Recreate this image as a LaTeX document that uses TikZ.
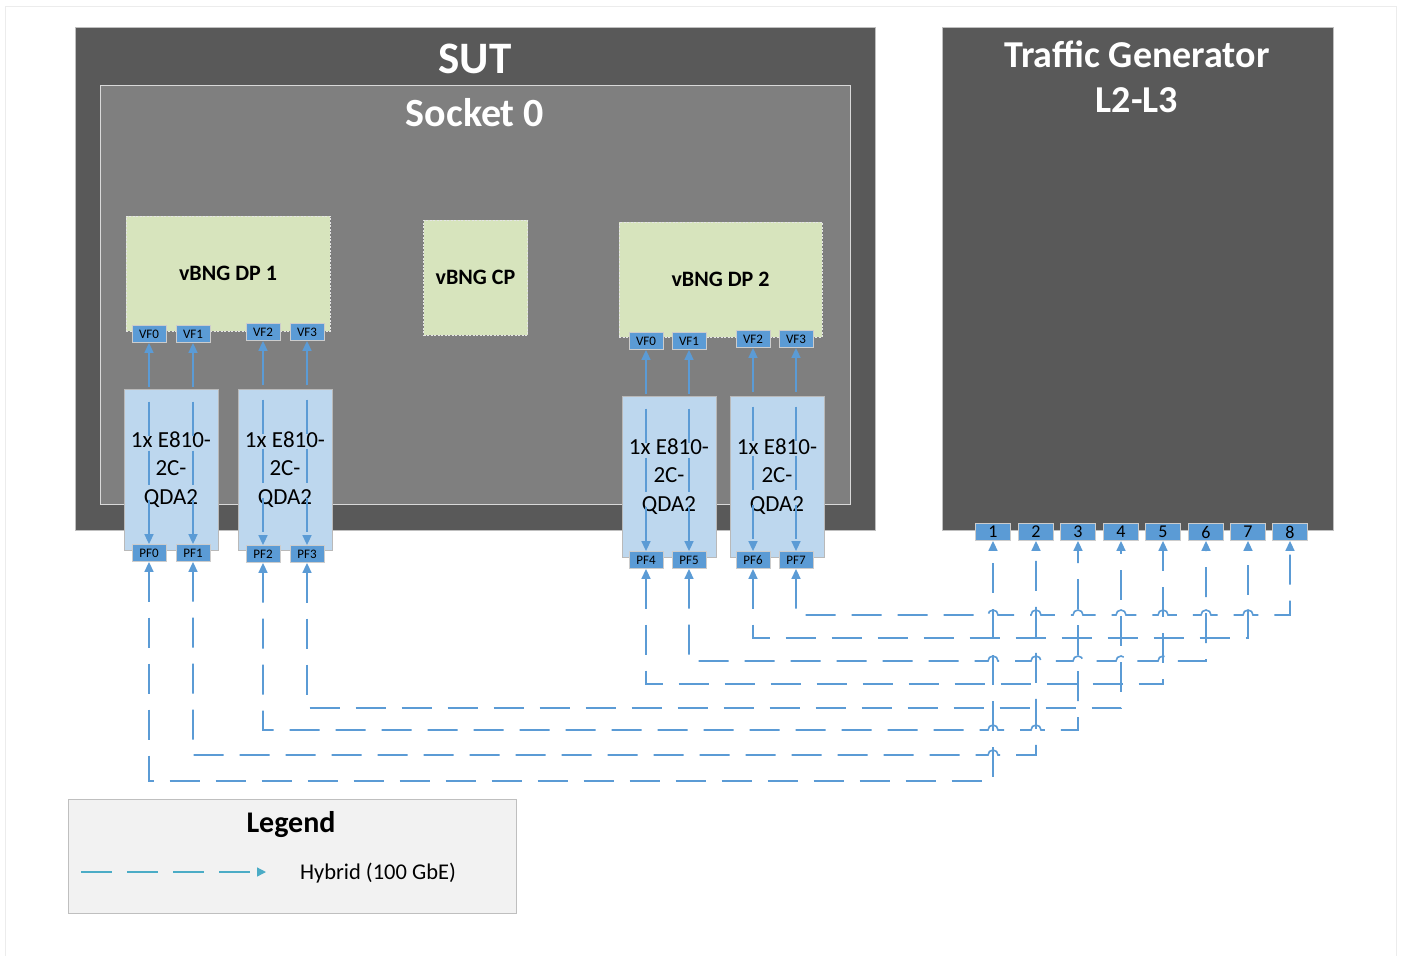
\documentclass[tikz,border=0pt]{standalone}
\usepackage{fontspec}
\setmainfont{Carlito}
\usetikzlibrary{arrows.meta}
\definecolor{sutgray}{HTML}{595959}
\definecolor{sockgray}{HTML}{7F7F7F}
\definecolor{edgegray}{HTML}{BFBFBF}
\definecolor{vnfgreen}{HTML}{D7E4BD}
\definecolor{nicblue}{HTML}{BDD7EE}
\definecolor{portblue}{HTML}{5B9BD5}
\definecolor{linkblue}{HTML}{5B9BD5}
\definecolor{legcyan}{HTML}{4BACC6}
\definecolor{legfill}{HTML}{F2F2F2}
\newcommand{\fsz}[1]{\fontsize{#1}{#1}\selectfont}
\begin{document}
\begin{tikzpicture}[x=1pt,y=-1pt]
          \tikzstyle{box}=[draw=edgegray, line width=0.8pt, inner sep=0pt];
          \tikzstyle{title}=[text=white, anchor=base, inner sep=0pt];
          \tikzstyle{vnf}=[draw=white!80!gray, dash pattern=on 2pt off 1.5pt, fill=vnfgreen, inner sep=0pt, font=\fsz{22}\bfseries];
          \tikzstyle{nic}=[draw=gray!55, fill=nicblue, minimum width=94pt, minimum height=161pt, inner sep=0pt, align=center, font=\fontsize{23}{28.3}\selectfont];
          \tikzstyle{port}=[draw=gray!40, line width=0.8pt, fill=portblue, minimum width=34pt, minimum height=17pt, inner sep=0pt, font=\fsz{13}];
          \tikzstyle{tgport}=[port, minimum width=35pt, font=\fsz{18}];
          \tikzstyle{link}=[draw=linkblue, line width=1.6pt, dash pattern=on 30pt off 16pt, >={Triangle[length=10pt,width=9pt]}, <->];
          \tikzstyle{vflink}=[link, dash pattern=on 34pt off 15pt];
          \useasboundingbox (0,0) rectangle (1401,956);
          \draw[gray!15, line width=1pt] (5,960) -- (5,6) -- (1396,6) -- (1396,960);
          %SUT and socket
          \node[box, fill=sutgray, minimum width=800pt, minimum height=503pt] (sut) at (475,278.5) {};
          \node[box, draw=gray!30, fill=sockgray, minimum width=750pt, minimum height=419pt] (sock) at (475,294.5) {};
          \node[title, font=\fsz{45}\bfseries] (suttitle) at (475,73) {SUT};
          \node[title, font=\fsz{40}\bfseries] (socktitle) at (475,126) {Socket 0};
          %vBNG instances
          \node[vnf, minimum width=204pt, minimum height=115pt] (dp1) at (228,273.5) {vBNG DP 1};
          \node[vnf, minimum width=104pt, minimum height=115pt] (cp) at (475.5,277.5) {vBNG CP};
          \node[vnf, minimum width=203pt, minimum height=115pt] (dp2) at (720.5,279.5) {vBNG DP 2};
          %NICs
          \node[nic] (nic1) at (171,469.5) {1x E810-\\2C-\\QDA2};
          \node[nic] (nic2) at (285,469.5) {1x E810-\\2C-\\QDA2};
          \node[nic] (nic3) at (669,476.5) {1x E810-\\2C-\\QDA2};
          \node[nic] (nic4) at (777,476.5) {1x E810-\\2C-\\QDA2};
          %VF and PF ports
          \node[port] (vf10) at (149,334) {VF0};
          \node[port] (vf11) at (193,334) {VF1};
          \node[port] (vf12) at (263,332) {VF2};
          \node[port] (vf13) at (307,332) {VF3};
          \node[port] (vf20) at (646,341) {VF0};
          \node[port] (vf21) at (689,341) {VF1};
          \node[port] (vf22) at (753,339) {VF2};
          \node[port] (vf23) at (796,339) {VF3};
          \node[port] (pf0) at (149,553) {PF0};
          \node[port] (pf1) at (193,553) {PF1};
          \node[port] (pf2) at (263,554) {PF2};
          \node[port] (pf3) at (307,554) {PF3};
          \node[port] (pf4) at (646,560) {PF4};
          \node[port] (pf5) at (689,560) {PF5};
          \node[port] (pf6) at (753,560) {PF6};
          \node[port] (pf7) at (796,560) {PF7};
          \foreach \v/\p in {vf10/pf0, vf11/pf1, vf12/pf2, vf13/pf3, vf20/pf4, vf21/pf5, vf22/pf6, vf23/pf7}
            \draw[vflink] (\v) -- (\p);
          %traffic generator
          \node[box, fill=sutgray, minimum width=391pt, minimum height=503pt] (tg) at (1137.5,278.5) {};
          \node[title, font=\fsz{38}\bfseries] (tgtitle) at (1137,67) {Traffic Generator};
          \node[title, font=\fsz{38}\bfseries] (tgsub) at (1137,112) {L2-L3};
          \foreach \i/\x in {1/993,2/1036,3/1078,4/1121,5/1163,6/1206,7/1248,8/1290}
            \node[tgport] (p\i) at (\x,532) {\i};
          %corners under the generator ports
          \coordinate (c1) at (993,781);
          \coordinate (c2) at (1036,755);
          \coordinate (c3) at (1078,730);
          \coordinate (c4) at (1121,708);
          \coordinate (c5) at (1163,684);
          \coordinate (c6) at (1206,661);
          \coordinate (c7) at (1248,638);
          \coordinate (c8) at (1290,615);
          \draw[link] (pf0.south) |- (c1) -- (p1.south);
          \draw[link] (pf1.south) |- (988,755) arc[start angle=180,end angle=0,radius=5pt] -- (c2) -- (p2.south);
          \draw[link] (pf2.south) |- (988,730) arc[start angle=180,end angle=0,radius=5pt]
            -- (1031,730) arc[start angle=180,end angle=0,radius=5pt] -- (c3) -- (p3.south);
          \draw[link] (pf3.south) |- (c4) -- (p4.south);
          \draw[link] (pf4.south) |- (c5) -- (p5.south);
          \draw[link] (pf5.south) |- (988,661) arc[start angle=180,end angle=0,radius=5pt]
            \foreach \h in {1036,1078,1121,1163} {-- (\h-5,661) arc[start angle=180,end angle=0,radius=5pt]}
            -- (c6) -- (p6.south);
          \draw[link] (pf6.south) |- (c7) -- (p7.south);
          \draw[link] (pf7.south) |- (988,615) arc[start angle=180,end angle=0,radius=5pt]
            \foreach \h in {1036,1078,1121,1163,1206,1248} {-- (\h-5,615) arc[start angle=180,end angle=0,radius=5pt]}
            -- (c8) -- (p8.south);
          %legend
          \node[box, fill=legfill, minimum width=448pt, minimum height=114pt] (legend) at (292,856) {};
          \node[anchor=base, inner sep=0pt, font=\fsz{30}\bfseries] (legtitle) at (291,832) {Legend};
          \coordinate (l0) at (81,872);
          \coordinate (l1) at (266,872);
          \draw[draw=legcyan, line width=1.3pt, dash pattern=on 31pt off 15pt, -{Triangle[length=9pt,width=9pt]}] (l0) -- (l1);
          \node[font=\fsz{22.5}] (hybrid) at (378,873) {Hybrid (100 GbE)};
      \end{tikzpicture}
\end{document}
